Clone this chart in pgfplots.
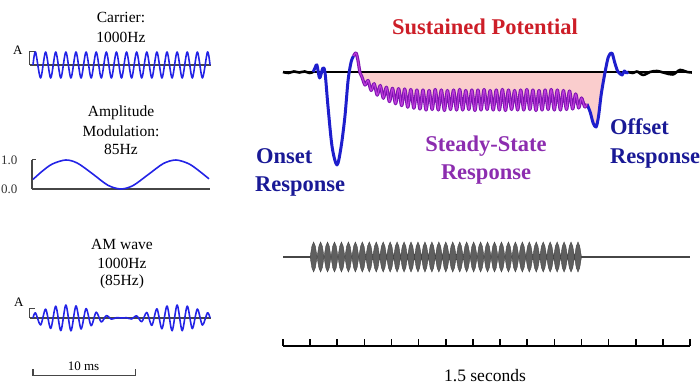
\documentclass[border=0pt]{standalone}
\usepackage{pgfplots}
\pgfplotsset{compat=1.18}
\usepackage{pgfplotstable}
\usepackage{fontspec}
\setmainfont{Liberation Serif}

\definecolor{wave}{RGB}{35,35,230}
\definecolor{resp}{RGB}{30,30,205}
\definecolor{resptext}{RGB}{25,25,150}
\definecolor{ssr}{RGB}{125,20,175}
\definecolor{ssrhi}{RGB}{190,60,220}
\definecolor{ssrtext}{RGB}{140,45,175}
\definecolor{sptext}{RGB}{205,30,40}
\definecolor{spfill}{RGB}{250,205,205}
\definecolor{axisgray}{RGB}{70,70,70}
\definecolor{burst}{RGB}{95,95,95}

\newcommand\lblfont{\fontsize{15.5}{19}\selectfont}
\newcommand\hdfont{\fontsize{22.5}{27}\selectfont\bfseries}

\pgfplotsset{
  panel/.style={scale only axis, hide axis, enlargelimits=false, clip=false, anchor=south west},
}
\tikzset{lab/.style={inner sep=0pt, anchor=base}}

% ---- evoked response (time in ms, amplitude in arbitrary units) ----
\pgfplotstableread{
t v
0 0
20 -1
40 0.5
60 -0.5
80 0.5
98 -1
111 0
}\pretable

\pgfplotstableread{
t v
111 0
118 4
125 7
135 -6
147 4
155 -1
166 -35
181 -75
199 -93
214 -75
228 -45
240 -8
251 10
260 16
}\onsettable

\pgfplotstableread{
t v
260 16
269 19
276 12
284 -1
291 -5
302.3 -13
313.5 -8.5
324.8 -18.5
336 -11.7
347.3 -23.2
358.5 -13.5
369.8 -26.3
381 -15.2
392.3 -29.6
403.5 -16.3
414.8 -31.7
426 -16.7
437.3 -33.6
448.5 -17
459.8 -35.2
471 -17.5
482.3 -36.2
493.5 -18
504.8 -37
516 -18
527.3 -38
538.5 -18.5
549.8 -37.5
561 -17.5
572.3 -38
583.5 -18
594.8 -38.5
606 -18.5
617.3 -37.5
628.5 -18
639.8 -38
651 -17.5
662.3 -38
673.5 -18.5
684.8 -37.5
696 -18
707.3 -38.5
718.5 -18
729.8 -38
741 -17.5
752.3 -37.5
763.5 -18.5
774.8 -38
786 -18
797.3 -38
808.5 -17.5
819.8 -38.5
831 -18
842.3 -37.5
853.5 -18.5
864.8 -38
876 -18
887.3 -38
898.5 -17.5
909.8 -37.5
921 -18
932.3 -38.5
943.5 -18.5
954.8 -38
966 -18
977.3 -37.5
988.5 -17.5
999.8 -38
1011 -18
1022.3 -38
1033.5 -18.5
1044.8 -37.5
1056 -19
1067.3 -37
1078.5 -22
1089.8 -36
1100 -26
1112 -35
1120 -32
}\ssrtable

\pgfplotstableread{
t v
1120 -32
1132 -40
1143 -51
1154 -55
1163 -44
1173 -22
1187 0
1199 15
1212 19
1223 9
1233 1
1243 -2
1250 -3
1258 1
1266 -1
1272 0
}\offtable

\pgfplotstableread{
t v
1272 0
1290 -1
1305 0.5
1327 -3
1353 0
1378 1
1408 -1
1437 -2.5
1463 2
1489 0
1507 -0.5
}\posttable

% ---- 1 s AM stimulus: envelope of each modulation cycle ----
\pgfplotstableread{
t env
100 0
106.4 .72
112.8 1
119.2 .72
125.6 0
132.1 .72
138.5 1
144.9 .72
151.3 0
157.7 .72
164.1 1
170.5 .72
176.9 0
183.3 .72
189.7 1
196.2 .72
202.6 0
209.0 .72
215.4 1
221.8 .72
228.2 0
234.6 .72
241.0 1
247.4 .72
253.8 0
260.3 .72
266.7 1
273.1 .72
279.5 0
285.9 .72
292.3 1
298.7 .72
305.1 0
311.5 .72
318.0 1
324.4 .72
330.8 0
337.2 .72
343.6 1
350.0 .72
356.4 0
362.8 .72
369.2 1
375.6 .72
382.1 0
388.5 .72
394.9 1
401.3 .72
407.7 0
414.1 .72
420.5 1
426.9 .72
433.3 0
439.7 .72
446.2 1
452.6 .72
459.0 0
465.4 .72
471.8 1
478.2 .72
484.6 0
491.0 .72
497.4 1
503.8 .72
510.3 0
516.7 .72
523.1 1
529.5 .72
535.9 0
542.3 .72
548.7 1
555.1 .72
561.5 0
567.9 .72
574.4 1
580.8 .72
587.2 0
593.6 .72
600.0 1
606.4 .72
612.8 0
619.2 .72
625.6 1
632.1 .72
638.5 0
644.9 .72
651.3 1
657.7 .72
664.1 0
670.5 .72
676.9 1
683.3 .72
689.7 0
696.2 .72
702.6 1
709.0 .72
715.4 0
721.8 .72
728.2 1
734.6 .72
741.0 0
747.4 .72
753.8 1
760.3 .72
766.7 0
773.1 .72
779.5 1
785.9 .72
792.3 0
798.7 .72
805.1 1
811.5 .72
817.9 0
824.4 .72
830.8 1
837.2 .72
843.6 0
850.0 .72
856.4 1
862.8 .72
869.2 0
875.6 .72
882.1 1
888.5 .72
894.9 0
901.3 .72
907.7 1
914.1 .72
920.5 0
926.9 .72
933.3 1
939.7 .72
946.2 0
952.6 .72
959.0 1
965.4 .72
971.8 0
978.2 .72
984.6 1
991.0 .72
997.4 0
1003.8 .72
1010.3 1
1016.7 .72
1023.1 0
1029.5 .72
1035.9 1
1042.3 .72
1048.7 0
1055.1 .72
1061.5 1
1067.9 .72
1074.4 0
1080.8 .72
1087.2 1
1093.6 .72
1100 0
}\stimtable

\begin{document}
\begin{tikzpicture}
\path[use as bounding box] (0,0) rectangle (700pt,387pt);

% ---------- left column ----------
\node[lab, font=\lblfont] at (121pt,364.5pt) {Carrier:};
\node[lab, font=\lblfont] at (121pt,344.5pt) {1000Hz};
\node[lab, font=\lblfont] at (121pt,270pt) {Amplitude};
\node[lab, font=\lblfont] at (121pt,250.5pt) {Modulation:};
\node[lab, font=\lblfont] at (121pt,232pt) {85Hz};
\node[lab, font=\lblfont] at (122pt,137pt) {AM wave};
\node[lab, font=\lblfont] at (122pt,118pt) {1000Hz};
\node[lab, font=\lblfont] at (122pt,101.5pt) {(85Hz)};

% carrier
\begin{axis}[panel, at={(33pt,309pt)}, width=177pt, height=26pt,
  xmin=0, xmax=17.5, ymin=-1, ymax=1]
  \addplot[axisgray, line width=1.3pt] coordinates {(-0.3,0) (17.6,0)};
  \draw[axisgray, line width=1pt] (axis cs:0.15,1) -- (axis cs:-0.3,1) -- (axis cs:-0.3,0);
  \node[lab, font=\fontsize{13}{13}\selectfont] at (axis cs:-1.5,0.77) {A};
  \addplot[wave, line width=1.6pt, smooth, line join=round] coordinates {
    (0,0) (0.25,1) (0.75,-1) (1.25,1) (1.75,-1) (2.25,1) (2.75,-1) (3.25,1) (3.75,-1)
    (4.25,1) (4.75,-1) (5.25,1) (5.75,-1) (6.25,1) (6.75,-1) (7.25,1) (7.75,-1)
    (8.25,1) (8.75,-1) (9.25,1) (9.75,-1) (10.25,1) (10.75,-1) (11.25,1) (11.75,-1)
    (12.25,1) (12.75,-1) (13.25,1) (13.75,-1) (14.25,1) (14.75,-1) (15.25,1) (15.75,-1)
    (16.25,1) (16.75,-1) (17.25,1) (17.5,0)};
\end{axis}

% modulation envelope
\begin{axis}[scale only axis, enlargelimits=false, clip=false, anchor=south west,
  at={(32pt,198pt)}, width=178pt, height=29pt,
  xmin=0, xmax=17.6, ymin=0, ymax=1,
  axis lines*=left, axis line style={axisgray, line width=1.3pt},
  xtick=\empty, ytick={0,1}, yticklabels={0.0,1.0},
  tick align=inside, major tick length=4pt, tick style={axisgray, line width=1pt},
  yticklabel style={font=\fontsize{13}{13}\selectfont, text=black!80, xshift=-11pt},
  /pgf/number format/assume math mode=true]
  \addplot[wave, line width=1.6pt, smooth] coordinates {
    (0.1,0.33) (1,0.61) (2,0.86) (3.34,1.0) (4.5,0.89) (6,0.52) (7.5,0.13) (8.79,0)
    (10,0.12) (11.5,0.50) (13,0.88) (14.24,1.0) (15.5,0.87) (16.5,0.63) (17.5,0.35)};
\end{axis}

% AM wave
\begin{axis}[panel, at={(33pt,56pt)}, width=177pt, height=26pt,
  xmin=0, xmax=17.5, ymin=-1, ymax=1]
  \addplot[axisgray, line width=1.3pt] coordinates {(-0.3,0) (17.6,0)};
  \draw[axisgray, line width=1pt] (axis cs:0.15,0.7) -- (axis cs:-0.3,0.7) -- (axis cs:-0.3,0);
  \node[lab, font=\fontsize{13}{13}\selectfont] at (axis cs:-1.4,0.92) {A};
  \addplot[wave, line width=1.6pt, smooth, line join=round] coordinates {
    (0,0) (0.25,0.396) (0.75,-0.539) (1.25,0.679) (1.75,-0.804) (2.25,0.905) (2.75,-0.971)
    (3.25,0.999) (3.75,-0.986) (4.25,0.933) (4.75,-0.844) (5.25,0.726) (5.75,-0.590)
    (6.25,0.447) (6.75,-0.308) (7.25,0.184) (7.75,-0.087) (8.25,0.024) (8.75,0)
    (9.25,0.018) (9.75,-0.075) (10.25,0.166) (10.75,-0.288) (11.25,0.424) (11.75,-0.567)
    (12.25,0.706) (12.75,-0.827) (13.25,0.920) (13.75,-0.980) (14.25,1.000) (14.75,-0.978)
    (15.25,0.915) (15.75,-0.815) (16.25,0.689) (16.75,-0.547) (17.25,0.403) (17.5,0)};
  % 10 ms scale bar
  \draw[axisgray, line width=1.2pt] (axis cs:0,-3.95) -- (axis cs:0,-4.4) -- (axis cs:10.1,-4.4) -- (axis cs:10.1,-3.95);
  \node[lab, font=\fontsize{13}{13}\selectfont] at (axis cs:5,-4.05) {10 ms};
\end{axis}

% ---------- right column ----------
\node[lab, font=\hdfont, text=sptext] at (485pt,352pt) {Sustained Potential};
\node[lab, anchor=base west, font=\hdfont, text=resptext] at (256pt,223.7pt) {Onset};
\node[lab, anchor=base west, font=\hdfont, text=resptext] at (255pt,195.3pt) {Response};
\node[lab, font=\hdfont, text=ssrtext] at (486pt,235.3pt) {Steady-State};
\node[lab, font=\hdfont, text=ssrtext] at (486pt,207pt) {Response};
\node[lab, anchor=base west, font=\hdfont, text=resptext] at (610pt,252pt) {Offset};
\node[lab, anchor=base west, font=\hdfont, text=resptext] at (610pt,223.7pt) {Response};

% evoked response
\begin{axis}[panel, at={(283pt,220pt)}, width=407pt, height=117pt,
  xmin=0, xmax=1500, ymin=-95, ymax=22]
  \addplot[draw=none, fill=spfill, smooth, restrict x to domain=284:1120] table {\ssrtable} \closedcycle;
  \addplot[draw=none, fill=spfill, smooth, restrict x to domain=1120:1187] table {\offtable} \closedcycle;
  \addplot[black, line width=1.2pt] coordinates {(0,0) (1500,0)};
  \addplot[black, line width=2.6pt, smooth, line join=round] table {\pretable};
  \addplot[black, line width=2.6pt, smooth, line join=round] table {\posttable};
  \addplot[resp, line width=3pt, smooth, line join=round] table {\onsettable};
  \addplot[resp, line width=3pt, smooth, line join=round] table {\offtable};
  \addplot[ssr, line width=3.2pt, smooth, line join=round] table {\ssrtable};
  \addplot[ssrhi, line width=1.1pt, smooth, line join=round] table {\ssrtable};
\end{axis}

% AM stimulus
\begin{axis}[panel, at={(283pt,115pt)}, width=407pt, height=30pt,
  xmin=0, xmax=1500, ymin=-1, ymax=1]
  \addplot[axisgray, line width=1.5pt] coordinates {(0,0) (1500,0)};
  \addplot[fill=burst, draw=burst!70!black, line width=0.4pt] table[y=env] {\stimtable};
  \addplot[fill=burst, draw=burst!70!black, line width=0.4pt] table[y expr=-\thisrow{env}] {\stimtable};
\end{axis}

% time scale
\begin{axis}[scale only axis, enlargelimits=false, anchor=south west,
  at={(283pt,41pt)}, width=407pt, height=10pt,
  xmin=0, xmax=1500, ymin=0, ymax=1,
  axis x line*=bottom, axis y line=none,
  xtick={0,100,...,1500}, xticklabels={}, tick align=inside, major tick length=7pt,
  x axis line style={line width=1.6pt}, tick style={line width=1.6pt, black}]
\end{axis}
\node[lab, font=\fontsize{17.5}{20}\selectfont] at (485pt,5pt) {1.5 seconds};
\end{tikzpicture}
\end{document}
